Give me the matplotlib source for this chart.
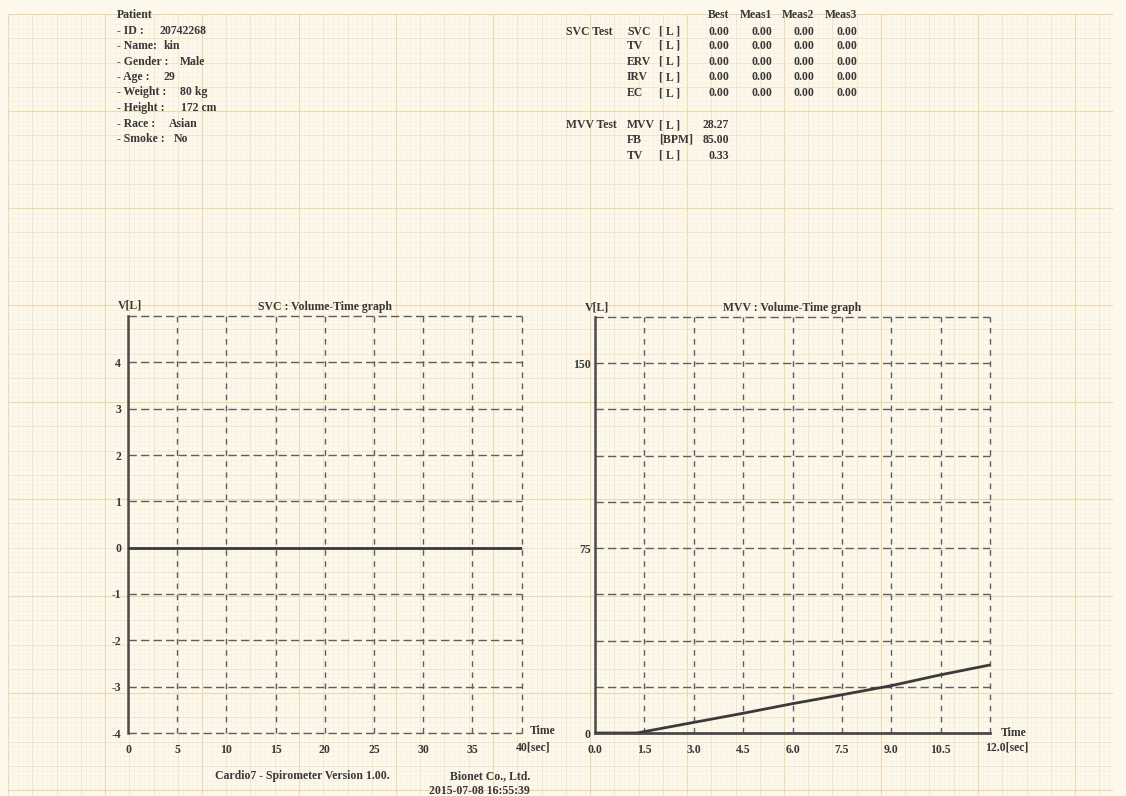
import numpy as np
import matplotlib
matplotlib.use("Agg")
import matplotlib.pyplot as plt

# ---------------- data ----------------
patient_labels = ["- ID :", "- Name:", "- Gender :", "- Age :", "- Weight :", "- Height :", "- Race :", "- Smoke :"]
patient_values = ["20742268", "kin", "Male", "29", "80 kg", "172 cm", "Asian", "No"]

table_header = ["Best", "Meas1", "Meas2", "Meas3"]
svc_params = ["SVC", "TV", "ERV", "IRV", "EC"]
svc_units = ["[ L ]", "[ L ]", "[ L ]", "[ L ]", "[ L ]"]
svc_best = [0.00, 0.00, 0.00, 0.00, 0.00]
svc_meas1 = [0.00, 0.00, 0.00, 0.00, 0.00]
svc_meas2 = [0.00, 0.00, 0.00, 0.00, 0.00]
svc_meas3 = [0.00, 0.00, 0.00, 0.00, 0.00]
mvv_params = ["MVV", "FB", "TV"]
mvv_units = ["[ L ]", "[BPM]", "[ L ]"]
mvv_values = [28.27, 85.00, 0.33]

# SVC volume-time curve (flat)
svc_time = [0, 40]
svc_volume = [0, 0]
svc_xticks = [0, 5, 10, 15, 20, 25, 30, 35, 40]
svc_yticks = [-4, -3, -2, -1, 0, 1, 2, 3, 4]

# MVV volume-time curve
mvv_time = [0.0, 1.27, 3.0, 4.5, 6.0, 7.5, 9.0, 10.5, 12.0]
mvv_volume = [0.0, 0.0, 4.3, 8.0, 11.9, 15.5, 19.2, 23.6, 27.6]
mvv_xticks = [0.0, 1.5, 3.0, 4.5, 6.0, 7.5, 9.0, 10.5, 12.0]
mvv_ygrid = [0, 18.75, 37.5, 56.25, 75, 93.75, 112.5, 131.25, 150, 168.75]
mvv_ylabels = [0, 75, 150]

footer_left = "Cardio7 - Spirometer Version 1.00."
footer_company = "Bionet Co., Ltd."
footer_date = "2015-07-08 16:55:39"

# ---------------- style ----------------
FONT = "Liberation Serif"
WEIGHT = "bold"
TXT = "#383838"
GRID = "#5e5e5e"
FS = 8.5
W, H = 1126, 796

fig = plt.figure(figsize=(W / 100, H / 100), dpi=100)
fig.patch.set_facecolor("#fdf8ec")

# graph-paper background
bg = fig.add_axes([0, 0, 1, 1])
bg.set_xlim(0, W)
bg.set_ylim(H, 0)
bg.axis("off")
step = 4.85
x0, x1, y0, y1 = 8, 1112, 14, 794
xs = np.arange(x0, x1, step)
ys = np.arange(y0, y1, step)


def paper_style(i):
    if i % 20 == 0:
        return "#efd6ad", 0.8
    if i % 5 == 0:
        return "#f3e1c2", 0.6
    return "#f8eedb", 0.4


for i, x in enumerate(xs):
    c, lw = paper_style(i)
    bg.plot([x, x], [y0, y1], color=c, lw=lw, zorder=0)
for i, y in enumerate(ys):
    c, lw = paper_style(i)
    bg.plot([x0, x1], [y, y], color=c, lw=lw, zorder=0)


def ftext(x, y, s, ha="left", **kw):
    bg.text(x, y, s, ha=ha, va="center", fontsize=FS, family=FONT,
            weight=WEIGHT, color=TXT, **kw)


# patient block
ftext(117, 15, "Patient")
label_y = [31, 46, 62, 77, 92, 108, 124, 139]
value_x = [159, 164, 180, 164, 180, 181, 169, 174]
for lab, val, y, vx in zip(patient_labels, patient_values, label_y, value_x):
    ftext(117, y, lab)
    ftext(vx, y, val)

# result table
col_right = [729, 772, 814, 857]
for h, xr in zip(table_header, col_right):
    ftext(xr, 15, h, ha="right")
svc_rows_y = [32, 46, 62, 77, 93]
ftext(566, 32, "SVC Test")
for i, (p, u, y) in enumerate(zip(svc_params, svc_units, svc_rows_y)):
    ftext(627, y, p)
    ftext(659, y, u)
    for vals, xr in zip([svc_best, svc_meas1, svc_meas2, svc_meas3], col_right):
        ftext(xr, y, f"{vals[i]:.2f}", ha="right")
mvv_rows_y = [125, 140, 156]
ftext(566, 125, "MVV Test")
for p, u, v, y in zip(mvv_params, mvv_units, mvv_values, mvv_rows_y):
    ftext(627, y, p)
    ftext(659, y, u)
    ftext(729, y, f"{v:.2f}", ha="right")

# footer
ftext(215, 776, footer_left)
ftext(530, 776, footer_company, ha="right")
ftext(530, 791, footer_date, ha="right")


def style_axes(ax, xgrid, ygrid, xlim, ylim):
    ax.set_facecolor("none")
    ax.set_xlim(*xlim)
    ax.set_ylim(*ylim)
    for s in ax.spines.values():
        s.set_visible(False)
    for x in xgrid[1:]:
        ax.axvline(x, color=GRID, lw=1.0, ls=(0, (4, 4)), zorder=1, clip_on=False)
    for y in ygrid:
        ax.axhline(y, color=GRID, lw=1.0, ls=(0, (6, 3)), zorder=1, clip_on=False)
    ax.axvline(xlim[0], color="#4a4a4a", lw=1.8, zorder=2, clip_on=False)
    ax.tick_params(length=0, labelsize=FS, labelcolor=TXT, pad=6)


def set_labels(ax, axis, ticks, labels):
    if axis == "x":
        ax.set_xticks(ticks)
        ax.set_xticklabels(labels, family=FONT, weight=WEIGHT)
    else:
        ax.set_yticks(ticks)
        ax.set_yticklabels(labels, family=FONT, weight=WEIGHT)


# SVC graph
ax1 = fig.add_axes([128 / W, 1 - 733 / H, (521.7 - 128) / W, (733 - 316) / H])
svc_ygrid = svc_yticks + [5]
style_axes(ax1, svc_xticks, svc_ygrid, (0, 40), (-4, 5))
ax1.plot(svc_time, svc_volume, color="#3a3a3a", lw=2.0, zorder=3)
set_labels(ax1, "x", svc_xticks, [str(t) for t in svc_xticks[:-1]] + [""])
set_labels(ax1, "y", svc_yticks, [str(t) for t in svc_yticks])
ax1.tick_params(axis="y", pad=5)
ax1.tick_params(axis="x", pad=8)
ax1.set_title("SVC : Volume-Time graph", fontsize=FS, family=FONT, weight=WEIGHT,
              color=TXT, pad=4)
ftext(118, 306, "V[L]")
ftext(530, 731, "Time")
ftext(516, 748, f"{svc_xticks[-1]}[sec]")

# MVV graph
ax2 = fig.add_axes([595 / W, 1 - 733 / H, (990 - 595) / W, (733 - 317) / H])
style_axes(ax2, mvv_xticks, mvv_ygrid, (0, 12), (0, 168.75))
ax2.axhline(0, color="#4a4a4a", lw=2.0, zorder=2, clip_on=False)
ax2.plot(mvv_time, mvv_volume, color="#3a3a3a", lw=2.0, zorder=3)
set_labels(ax2, "x", mvv_xticks, [f"{t:.1f}" for t in mvv_xticks[:-1]] + [""])
set_labels(ax2, "y", mvv_ylabels, [str(t) for t in mvv_ylabels])
ax2.tick_params(axis="y", pad=3)
ax2.tick_params(axis="x", pad=8)
ax2.set_title("MVV : Volume-Time graph", fontsize=FS, family=FONT, weight=WEIGHT,
              color=TXT, pad=4)
ftext(585, 308, "V[L]")
ftext(1001, 733, "Time")
ftext(985, 748, f"{mvv_xticks[-1]:.1f}[sec]")

fig.savefig("out.png", dpi=100, facecolor=fig.get_facecolor())
